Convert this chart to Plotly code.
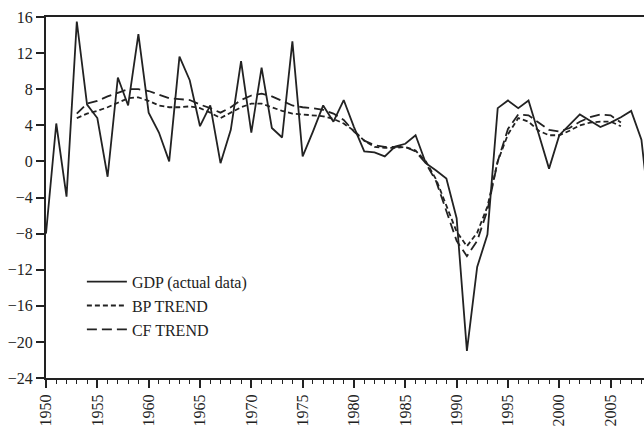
import plotly.graph_objects as go

years = list(range(1950, 2010))
gdp = [-8.0, 4.2, -3.9, 15.5, 6.3, 4.8, -1.7, 9.3, 6.2, 14.1,
       5.4, 3.2, 0.0, 11.6, 9.0, 3.9, 6.2, -0.2, 3.5, 11.1,
       3.2, 10.4, 3.7, 2.65, 13.3, 0.55, 3.3, 6.2, 4.4, 6.8,
       3.8, 1.1, 1.0, 0.55, 1.65, 1.95, 2.9, -0.2, -1.0, -1.9,
       -6.3, -21.0, -11.7, -8.1, 5.9, 6.75, 5.9, 6.75, 3.0, -0.8,
       2.9, 4.1, 5.2, 4.5, 3.8, 4.3, 4.9, 5.6, 2.4, -7.8]

trend_years = list(range(1953, 2007))
bp_trend = [4.8, 5.3, 5.6, 6.0, 6.5, 7.0, 7.1, 6.7, 6.2, 6.0,
            6.0, 6.1, 5.9, 5.4, 4.8, 5.4, 6.0, 6.4, 6.4, 6.0,
            5.6, 5.3, 5.2, 5.1, 5.0, 4.7, 4.2, 3.4, 2.3, 1.6,
            1.5, 1.5, 1.6, 1.2, 0.0, -2.0, -5.0, -7.8, -9.4, -7.9,
            -5.0, 0.0, 3.0, 4.8, 4.4, 3.4, 2.9, 2.9, 3.4, 4.0,
            4.3, 4.4, 4.4, 3.9]
cf_trend = [5.3, 6.4, 6.7, 7.2, 7.6, 8.0, 8.0, 7.8, 7.4, 7.0,
            6.9, 6.8, 6.3, 5.9, 5.4, 6.0, 6.8, 7.3, 7.5, 7.2,
            6.7, 6.2, 6.0, 5.9, 5.7, 5.3, 4.6, 3.3, 2.3, 1.8,
            1.6, 1.6, 1.6, 1.1, -0.2, -2.2, -5.5, -8.8, -10.5, -8.8,
            -5.4, 0.0, 3.6, 5.2, 5.1, 4.3, 3.5, 3.3, 3.7, 4.4,
            4.9, 5.2, 5.1, 4.3]

y_ticks = [16, 12, 8, 4, 0, -4, -8, -12, -16, -20, -24]
x_ticks = list(range(1950, 2010, 5))

ink = "#222222"
font_family = "Liberation Serif, Times New Roman, serif"

fig = go.Figure()
fig.add_trace(go.Scatter(x=years, y=gdp, mode="lines", name="GDP (actual data)",
                         legendgroup="a", line=dict(color=ink, width=1.8)))
fig.add_trace(go.Scatter(x=trend_years, y=bp_trend, mode="lines", name="BP TREND",
                         legendgroup="b", line=dict(color=ink, width=1.8, dash="5px,3px")))
fig.add_trace(go.Scatter(x=trend_years, y=cf_trend, mode="lines", name="CF TREND",
                         legendgroup="c", line=dict(color=ink, width=1.8, dash="10px,5px")))

fig.update_layout(
    width=644, height=427,
    margin=dict(l=46, r=0, t=17, b=49),
    paper_bgcolor="white", plot_bgcolor="white",
    font=dict(family=font_family, size=16, color=ink),
    showlegend=True,
    legend=dict(x=0.06, y=0.2, xanchor="left", yanchor="middle",
                bgcolor="rgba(0,0,0,0)", font=dict(size=16, color=ink),
                tracegroupgap=0, itemwidth=40),
    hovermode=False,
)
fig.update_xaxes(
    range=[1950, 2008.25], tickmode="array", tickvals=x_ticks,
    ticktext=[str(v) for v in x_ticks], tickangle=-90,
    ticks="outside", ticklen=8, tickwidth=1.5, tickcolor=ink,
    minor=dict(dtick=1, ticks="outside", ticklen=4, tickwidth=1, tickcolor=ink),
    showline=True, linecolor=ink, linewidth=2, mirror=True,
    showgrid=False, zeroline=False,
    tickfont=dict(size=16, color=ink),
)
fig.update_yaxes(
    range=[-24, 16], tickmode="array", tickvals=y_ticks,
    ticks="outside", ticklen=8, tickwidth=1.5, tickcolor=ink,
    showline=True, linecolor=ink, linewidth=2, mirror=False,
    showgrid=False, zeroline=False,
    tickfont=dict(size=16, color=ink),
)

fig.write_html("out.html", config={"displayModeBar": False},
               post_script="document.body.style.margin='0';")
